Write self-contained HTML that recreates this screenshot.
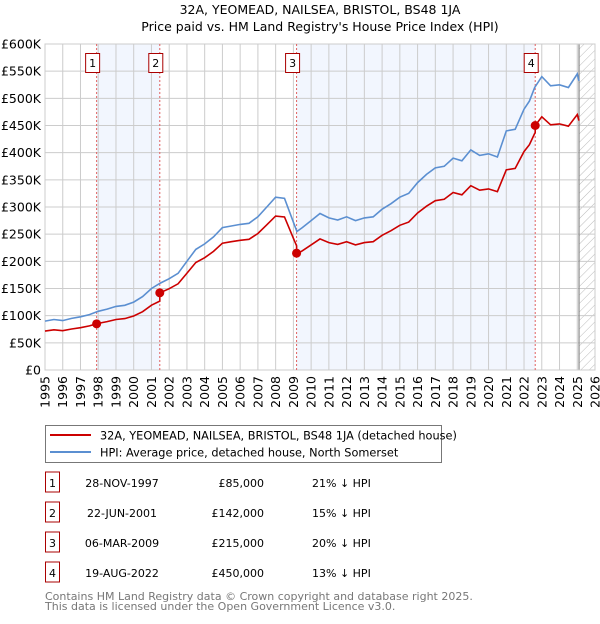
<!DOCTYPE html>
<html><head><meta charset="utf-8"><style>
body{margin:0;background:#fff;width:600px;height:620px;overflow:hidden;font-family:"DejaVu Sans","Liberation Sans",sans-serif;}
svg text{font-family:"DejaVu Sans","Liberation Sans",sans-serif;}
</style></head><body>
<svg id="c" width="600" height="620" viewBox="0 0 600 620">
<defs><pattern id="hatch" width="6" height="6" patternUnits="userSpaceOnUse" patternTransform="rotate(45)"><line x1="0" y1="0" x2="0" y2="6" stroke="#bbb" stroke-width="1"/></pattern></defs>
<text x="320" y="14" text-anchor="middle" font-size="12.5" fill="#000">32A, YEOMEAD, NAILSEA, BRISTOL, BS48 1JA</text>
<text x="320" y="31" text-anchor="middle" font-size="12.5" fill="#000">Price paid vs. HM Land Registry's House Price Index (HPI)</text>
<g id="plot"></g>
<g id="legend">
<rect x="45.5" y="425.5" width="396" height="37" fill="#fff" stroke="#777"/>
<line x1="50" y1="435" x2="91" y2="435" stroke="#cc0000" stroke-width="2"/>
<text x="100" y="439.5" font-size="11.3">32A, YEOMEAD, NAILSEA, BRISTOL, BS48 1JA (detached house)</text>
<line x1="50" y1="452" x2="91" y2="452" stroke="#5b8fd1" stroke-width="2"/>
<text x="100" y="456.5" font-size="11.3">HPI: Average price, detached house, North Somerset</text>
</g>
<g id="table"></g>
<text x="45" y="600" font-size="11" fill="#777">Contains HM Land Registry data © Crown copyright and database right 2025.</text>
<text x="45" y="610" font-size="11" fill="#777">This data is licensed under the Open Government Licence v3.0.</text>
</svg>
<script>
const hpiYears=[1995,1995.5,1996,1996.5,1997,1997.5,1998,1998.5,1999,1999.5,2000,2000.5,2001,2001.5,2002,2002.5,2003,2003.5,2004,2004.5,2005,2005.5,2006,2006.5,2007,2007.5,2008,2008.5,2009,2009.2,2009.5,2010,2010.5,2011,2011.5,2012,2012.5,2013,2013.5,2014,2014.5,2015,2015.5,2016,2016.5,2017,2017.5,2018,2018.5,2019,2019.5,2020,2020.5,2021,2021.5,2022,2022.3,2022.6,2023,2023.5,2024,2024.5,2025,2025.1];
const hpiValues=[90000,93000,91000,95000,98000,102000,108000,112000,117000,119000,125000,135000,150000,160000,168000,178000,200000,222000,232000,245000,262000,265000,268000,270000,282000,300000,318000,316000,272000,255000,262000,275000,288000,280000,276000,282000,275000,280000,282000,296000,306000,318000,325000,345000,360000,372000,375000,390000,385000,405000,395000,398000,392000,440000,443000,480000,495000,520000,540000,523000,525000,520000,545000,532000];
const saleDates=[1997.91,2001.47,2009.18,2022.63];
const salePrices=[85000,142000,215000,450000];
const saleLabels=["1","2","3","4"];
const saleDateText=["28-NOV-1997","22-JUN-2001","06-MAR-2009","19-AUG-2022"];
const salePriceText=["£85,000","£142,000","£215,000","£450,000"];
const saleDiffText=["21% ↓ HPI","15% ↓ HPI","20% ↓ HPI","13% ↓ HPI"];
const yTicks=[0,50000,100000,150000,200000,250000,300000,350000,400000,450000,500000,550000,600000];
const yTickLabels=["£0","£50K","£100K","£150K","£200K","£250K","£300K","£350K","£400K","£450K","£500K","£550K","£600K"];
const xTicks=[1995,1996,1997,1998,1999,2000,2001,2002,2003,2004,2005,2006,2007,2008,2009,2010,2011,2012,2013,2014,2015,2016,2017,2018,2019,2020,2021,2022,2023,2024,2025,2026];
const dataEnd=2025.1;

const L=45,R=595,T=44,B=370,X0=1995,X1=2026,YMAX=600000;
const xs=v=>L+(v-X0)/(X1-X0)*(R-L);
const ys=v=>B-v/YMAX*(B-T);
const NS="http://www.w3.org/2000/svg";
const plot=document.getElementById('plot');
function mk(tag,attrs,parent){const e=document.createElementNS(NS,tag);for(const k in attrs)e.setAttribute(k,attrs[k]);(parent||plot).appendChild(e);return e;}
function hpiAt(t){if(t<=hpiYears[0])return hpiValues[0];for(let i=1;i<hpiYears.length;i++){if(t<=hpiYears[i]){const f=(t-hpiYears[i-1])/(hpiYears[i]-hpiYears[i-1]);return hpiValues[i-1]+f*(hpiValues[i]-hpiValues[i-1]);}}return hpiValues[hpiValues.length-1];}

for(let i=0;i<saleDates.length;i+=2){
  const x2=i+1<saleDates.length?saleDates[i+1]:dataEnd;
  const r=mk('rect',{x:xs(saleDates[i]),y:T,width:xs(x2)-xs(saleDates[i]),height:B-T,fill:'#f2f6fe'});
  
  
}
const h=mk('rect',{x:xs(dataEnd),y:T,width:R-xs(dataEnd),height:B-T,fill:'url(#hatch)'});


yTicks.forEach((v,i)=>{
  const g=mk('line',{x1:L,x2:R,y1:ys(v),y2:ys(v),stroke:'#ccc','stroke-width':1});
  
  
  const t=mk('text',{x:L-4,y:ys(v)+4.5,'text-anchor':'end','font-size':12.5,fill:'#000'});
  t.textContent=yTickLabels[i];
  
  
});
xTicks.forEach(v=>{
  const g=mk('line',{x1:xs(v),x2:xs(v),y1:T,y2:B,stroke:'#ccc','stroke-width':1});
  
  
  const t=mk('text',{x:0,y:0,'text-anchor':'end','font-size':12.5,fill:'#000',transform:`translate(${xs(v)+4.5},${B+6}) rotate(-90)`});
  t.textContent=v;
  
  
});
mk('line',{x1:xs(dataEnd),x2:xs(dataEnd),y1:T,y2:B,stroke:'#888','stroke-width':1.2});
mk('rect',{x:L,y:T,width:R-L,height:B-T,fill:'none',stroke:'#ccc'});
saleDates.forEach(d=>{
  const l=mk('line',{x1:xs(d),x2:xs(d),y1:T,y2:B,stroke:'#e06060','stroke-width':1,'stroke-dasharray':'2,2'});
  
  
});
let hp=hpiYears.map((y,i)=>`${i?'L':'M'}${xs(y).toFixed(1)},${ys(hpiValues[i]).toFixed(1)}`).join('');
const hl=mk('path',{d:hp,fill:'none',stroke:'#5b8fd1','stroke-width':1.6});


const factors=saleDates.map((d,i)=>salePrices[i]/hpiAt(d));
const pts=[];
const times=hpiYears.concat(saleDates).sort((a,b)=>a-b);
times.forEach(t=>{
  let k=0;for(let i=0;i<saleDates.length;i++)if(t>=saleDates[i])k=i;
  if(saleDates.includes(t)&&k>0){pts.push([t,hpiAt(t)*factors[k-1]]);}
  pts.push([t,hpiAt(t)*factors[k]]);
});
const rl=mk('path',{d:pts.map((p,i)=>`${i?'L':'M'}${xs(p[0]).toFixed(1)},${ys(p[1]).toFixed(1)}`).join(''),fill:'none',stroke:'#cc0000','stroke-width':1.6});


saleDates.forEach((d,i)=>{
  const c=mk('circle',{cx:xs(d),cy:ys(salePrices[i]),r:4.5,fill:'#cc0000'});
  
  
  const bx=xs(d)-11;
  const r=mk('rect',{x:bx,y:53.5,width:14,height:19,fill:'#fff',stroke:'#aa0000'});
  
  
  const t=mk('text',{x:bx+7,y:67,'text-anchor':'middle','font-size':11});
  t.textContent=saleLabels[i];
  
  
});
const tb=document.getElementById('table');
saleLabels.forEach((lab,i)=>{
  const y=483+i*30;
  const r=mk('rect',{x:45.5,y:y-11,width:14,height:20,fill:'#fff',stroke:'#aa0000'},tb);
  
  
  const cells=[[52.5,lab,'middle'],[122,saleDateText[i],'middle'],[264,salePriceText[i],'end'],[312,saleDiffText[i],'start']];
  cells.forEach(cl=>{
    const t=mk('text',{x:cl[0],y:y+4,'text-anchor':cl[2],'font-size':11},tb);
    t.textContent=cl[1];
    
    
  });
});
</script>
</body></html>
